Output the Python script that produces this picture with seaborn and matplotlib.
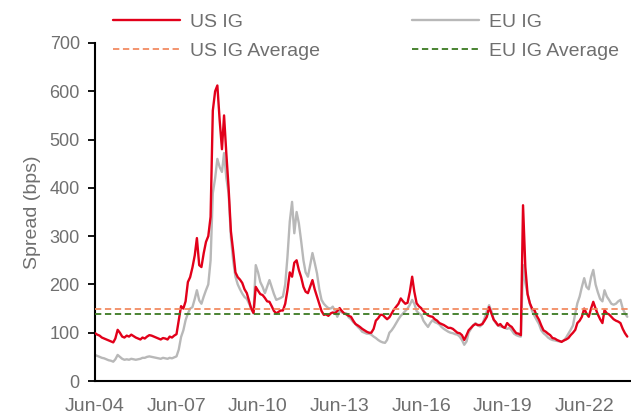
import matplotlib
matplotlib.use("Agg")
import matplotlib.pyplot as plt
import matplotlib.dates as mdates
import seaborn as sns
import pandas as pd

start_month = "2004-06-01"
end_month = "2024-01-01"

us_ig = [
    99, 96, 94, 90, 88, 86, 84,
    82, 80, 88, 106, 100, 92, 90, 94, 92, 96, 93, 90,
    88, 86, 90, 88, 92, 95, 94, 92, 90, 88, 86, 89,
    88, 86, 92, 90, 94, 97, 125, 155, 150, 165, 205, 215,
    235, 260, 296, 240, 236, 265, 288, 300, 340, 560, 600, 612,
    540, 480, 550, 470, 400, 310, 270, 225, 215, 210, 203, 190,
    182, 165, 150, 141, 195, 187, 180, 178, 172, 165, 164, 155,
    145, 140, 143, 146, 146, 160, 188, 225, 216, 245, 250, 230,
    215, 195, 185, 182, 195, 209, 190, 175, 160, 145, 137, 138,
    135, 140, 142, 140, 145, 151, 145, 140, 138, 135, 133, 125,
    118, 115, 112, 108, 105, 102, 100, 100, 108, 125, 130, 137,
    137, 132, 128, 132, 140, 148, 154, 160, 171, 165, 160, 162,
    185, 216, 185, 161, 155, 151, 145, 140, 136, 134, 133, 128,
    125, 120, 118, 116, 113, 110, 110, 108, 104, 100, 99, 95,
    85, 95, 105, 110, 115, 118, 116, 116, 118, 125, 133, 153,
    140, 127, 122, 115, 118, 112, 110, 120, 115, 112, 105, 99,
    98, 95, 364, 236, 180, 161, 150, 147, 135, 127, 115, 105,
    102, 98, 95, 89, 88, 85, 83, 81, 84, 86, 89, 95,
    100, 106, 120, 125, 133, 150, 140, 133, 150, 164, 150, 138,
    128, 120, 147, 140, 138, 133, 128, 125, 123, 120, 108, 99,
    92,
]

eu_ig = [
    54, 52, 50, 48, 47, 45, 43,
    42, 40, 45, 54, 50, 46, 44, 45, 44, 46, 45, 44,
    45, 46, 48, 48, 50, 51, 50, 49, 48, 47, 46, 48,
    47, 46, 48, 47, 49, 51, 65, 91, 105, 126, 140, 150,
    153, 170, 188, 167, 160, 175, 188, 200, 250, 389, 420, 460,
    443, 433, 472, 420, 389, 298, 250, 216, 200, 190, 181, 174,
    170, 160, 150, 140, 240, 225, 205, 195, 182, 195, 209, 195,
    180, 168, 170, 172, 175, 200, 257, 330, 371, 306, 350, 327,
    290, 250, 225, 216, 240, 265, 245, 223, 190, 168, 160, 155,
    151, 150, 154, 145, 133, 145, 142, 140, 140, 132, 128, 122,
    118, 112, 108, 102, 100, 98, 98, 96, 92, 89, 85, 82,
    80, 79, 85, 100, 105, 112, 120, 128, 135, 140, 145, 150,
    158, 168, 160, 145, 140, 137, 125, 118, 112, 120, 126, 122,
    120, 117, 112, 108, 105, 102, 100, 99, 97, 96, 92, 85,
    75, 82, 100, 108, 115, 120, 115, 113, 118, 130, 145, 157,
    145, 127, 120, 115, 113, 113, 110, 108, 110, 105, 98, 95,
    93, 92, 240, 203, 180, 160, 145, 135, 126, 118, 105, 99,
    95, 90, 87, 85, 84, 83, 82, 82, 84, 90, 98, 106,
    115, 140, 161, 175, 195, 213, 195, 190, 215, 230, 200, 184,
    170, 165, 188, 175, 168, 160, 158, 160, 165, 168, 150, 140,
    133,
]

us_ig_average = 149
eu_ig_average = 138

series_names = ["US IG", "EU IG", "US IG Average", "EU IG Average"]
tick_years = [2004, 2007, 2010, 2013, 2016, 2019, 2022]
y_ticks = [0, 100, 200, 300, 400, 500, 600, 700]

dates = pd.date_range(start_month, end_month, freq="MS")
df = pd.DataFrame({"date": dates, "US IG": us_ig, "EU IG": eu_ig})

sns.set_style("white")
plt.rcParams["font.family"] = ["Liberation Sans", "DejaVu Sans"]

fig = plt.figure(figsize=(6.31, 4.17), dpi=100)
ax = fig.add_axes([0.1506, 0.0863, 0.8494, 0.8106])

red = "#e2001a"
grey = "#b8b8b8"
orange = "#f28b62"
green = "#3c7a22"
txt = "#6f6f6f"

sns.lineplot(data=df, x="date", y="US IG", ax=ax, color=red, lw=1.7, label=series_names[0], zorder=3)
sns.lineplot(data=df, x="date", y="EU IG", ax=ax, color=grey, lw=1.7, label=series_names[1], zorder=2)
ax.axhline(us_ig_average, color=orange, lw=1.3, ls=(0, (3.5, 2)), label=series_names[2], zorder=4)
ax.axhline(eu_ig_average, color=green, lw=1.3, ls=(0, (3.5, 2)), label=series_names[3], zorder=4)

ax.set_xlim(pd.Timestamp("2004-06-01"), pd.Timestamp("2024-02-20"))
ax.set_ylim(0, 700)
ax.set_yticks(y_ticks)
ax.set_xticks([pd.Timestamp(f"{y}-06-01") for y in tick_years])
ax.xaxis.set_major_formatter(mdates.DateFormatter("%b-%y"))

for s in ["top", "right"]:
    ax.spines[s].set_visible(False)
for s in ["left", "bottom"]:
    ax.spines[s].set_color("black")
    ax.spines[s].set_linewidth(1.5)

ax.tick_params(axis="y", which="both", left=True, length=5, width=1.3, color="black",
               labelcolor=txt, labelsize=13, pad=6)
ax.tick_params(axis="x", which="both", bottom=False, labelcolor=txt, labelsize=14, pad=9)
ax.set_xlabel("")
ax.set_ylabel("Spread (bps)", color=txt, fontsize=14, labelpad=6)

ax.get_legend().remove()
h, l = ax.get_legend_handles_labels()
order = [0, 2, 1, 3]
fig.legend([h[i] for i in order], [l[i] for i in order], ncol=2, frameon=False,
           loc="upper left", bbox_to_anchor=(113 / 631, 0.968), fontsize=14, labelcolor=txt,
           borderpad=0, borderaxespad=0,
           handlelength=3.45, handletextpad=0.5, columnspacing=4.75, labelspacing=0.6)

fig.savefig("out.png", dpi=100)
